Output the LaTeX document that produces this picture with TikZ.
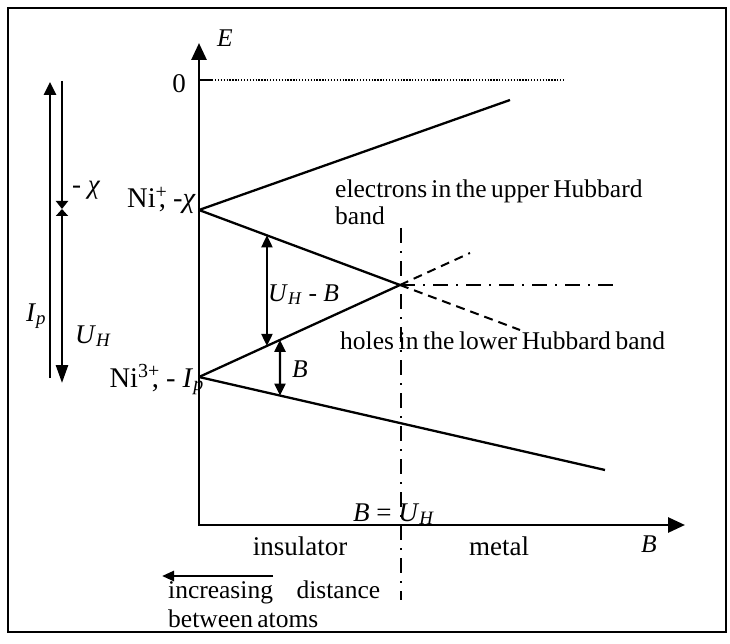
\documentclass[tikz,border=0pt]{standalone}
\usepackage{fontspec}
\setmainfont{Liberation Serif}
\usetikzlibrary{arrows.meta,calc}
\begin{document}
\begin{tikzpicture}[x=1pt,y=-1pt,
  every node/.style={inner sep=0pt, font=\fontsize{25.5}{28}\selectfont},
  big/.style={font=\fontsize{27}{30}\selectfont},
  bigger/.style={font=\fontsize{28.5}{31}\selectfont},
  band/.style={line width=2.3pt},
  axis/.style={line width=2.8pt, {Triangle[length=17pt,width=15pt]}-{Triangle[length=17pt,width=15pt]}},
  dimarrow/.style={line width=2.3pt, {Triangle[length=12pt,width=11pt]}-{Triangle[length=12pt,width=11pt]}},
  dashext/.style={line width=2pt, dash pattern=on 9pt off 6pt},
  dashdot/.style={line width=2pt, dash pattern=on 15pt off 8pt on 2pt off 8pt},
  lefta/.style={line width=2.6pt},
]
\useasboundingbox (0,0) rectangle (730,644);
\draw[line width=2.5pt] (8,8) rectangle (726,632);

% coordinates
\coordinate (O) at (199,525);
\coordinate (Etop) at (199,43);
\coordinate (Bend) at (685,525);
\coordinate (chi) at (199,210);
\coordinate (Ip) at (199,377);
\coordinate (X) at (400,285);
\coordinate (up) at (510,100);
\coordinate (low) at (605,470);
\coordinate (dup) at (470,253);
\coordinate (ddown) at (520,330);
\coordinate (hend) at (613,285);
\coordinate (vtop) at (401,228);
\coordinate (vbot) at (401,600);
\coordinate (zt) at (199,80);
\coordinate (zt2) at (212,80);
\coordinate (zend) at (563,80);

% axes
\draw[axis] (Etop) -- (O) -- (Bend);
\draw[line width=2.2pt] (zt) -- (zt2);
\draw[line width=1.3pt, dash pattern=on 1.3pt off 1.6pt] (zt2) -- (zend);

% band lines
\draw[band] (chi) -- (up);
\draw[band] (chi) -- (X);
\draw[band] (Ip) -- (X);
\draw[band] (Ip) -- (low);
\draw[dashext] (X) -- (dup);
\draw[dashext] (X) -- (ddown);
\draw[dashdot] (X) -- (hend);
\draw[dashdot] (vtop) -- (vbot);

% dimension arrows
\coordinate (a1) at ($(chi)!0.338!(X)$);
\coordinate (a2) at ($(Ip)!0.338!(X)$);
\coordinate (b1) at ($(Ip)!0.403!(X)$);
\coordinate (b2) at ($(Ip)!0.1995!(low)$);
\draw[dimarrow] (a1) -- (a2);
\draw[dimarrow] (b1) -- (b2);

% left arrows
\coordinate (ipb) at (50,378);
\coordinate (ipt) at (50,82);
\coordinate (ct) at (62,81);
\coordinate (cm) at (62,209);
\coordinate (cb) at (62,383);
\draw[lefta, -{Triangle[length=13pt,width=12pt]}] (ipb) -- (ipt);
\draw[lefta, -{Triangle[length=8pt,width=12pt]}] (ct) -- (cm);
\draw[lefta, {Triangle[length=7pt,width=12pt]}-{Triangle[length=18pt,width=12pt]}] (cm) -- (cb);

% bottom arrow
\coordinate (ia) at (273,576);
\coordinate (ib) at (162,576);
\draw[line width=2.6pt, -{Triangle[length=12pt,width=10pt]}] (ia) -- (ib);

% labels
\node[big, anchor=base east] (zero) at (186,93) {0};
\node[anchor=base west] (Elab) at (217,47) {\textit{E}};
\node[bigger, anchor=base east] (niplus) at (196,208) {Ni\textsuperscript{+}\kern-0.3em, -\textit{χ}};
\node[bigger, anchor=base east] (nithree) at (204,387) {Ni\textsuperscript{3+}\kern-0.28em, - \textit{I}\textsubscript{\textit{p}}};
\node[anchor=base west] (uhb) at (268,301) {\textit{U}\textsubscript{\textit{H}} - \textit{B}};
\node[anchor=base west] (blab) at (292,377) {\textit{B}};
\node[anchor=base west] (elec) at (335,198) {\makebox[300pt][s]{electrons in the upper Hubbard}};
\node[anchor=base west] (band) at (335,225) {band};
\node[anchor=base west] (holes) at (340,349) {\makebox[325pt][s]{holes in the lower Hubbard band}};
\node[big, anchor=base west] (buh) at (353,521) {\textit{B} = \textit{U}\textsubscript{\textit{H}}};
\node[big, anchor=base] (ins) at (300,555) {insulator};
\node[big, anchor=base] (met) at (499,555) {metal};
\node[anchor=base west] (baxis) at (641,552) {\textit{B}};
\node[anchor=base west] (incr) at (168,598) {\makebox[212pt][s]{increasing distance}};
\node[anchor=base west] (betw) at (168,627) {\makebox[147pt][s]{between atoms}};
\node[big, anchor=base west] (mchi) at (72,194) {- \textit{χ}};
\node[big, anchor=base west] (uh) at (75,343) {\textit{U}\textsubscript{\textit{H}}};
\node[big, anchor=base west] (iplab) at (26,321) {\textit{I}\textsubscript{\textit{p}}};
\end{tikzpicture}
\end{document}
